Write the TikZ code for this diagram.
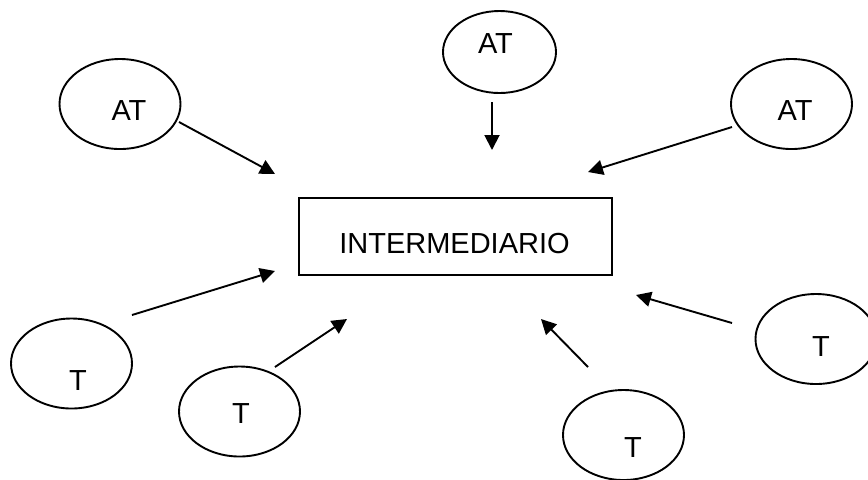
\documentclass[tikz,border=0pt]{standalone}
\usepackage{fontspec}
\setmainfont{Liberation Sans}
\usetikzlibrary{shapes.geometric,arrows.meta}
\begin{document}
\begin{tikzpicture}[x=0.5pt,y=-0.5pt,
  oval/.style={draw,ellipse,line width=0.95pt,inner sep=0pt,minimum width=60.5pt,minimum height=45pt},
  lbl/.style={inner sep=0pt,font=\fontsize{14.5pt}{17pt}\selectfont},
  conn/.style={line width=0.95pt,-{Triangle[length=7.5pt,width=7.5pt]}}]
\useasboundingbox (0,0) rectangle (868,479);
% box
\node[draw,line width=0.95pt,minimum width=156.5pt,minimum height=38.5pt,inner sep=0pt] (box) at (455.5,236.5) {};
\node[lbl] (boxt) at (454.5,244) {INTERMEDIARIO};
% ellipses
\node[oval] (at1) at (120,104) {};
\node[oval,minimum width=56.5pt,minimum height=41pt] (at2) at (499.5,52) {};
\node[oval] (at3) at (791.5,104) {};
\node[oval] (t1) at (71.5,363.5) {};
\node[oval] (t2) at (239.5,411.5) {};
\node[oval] (t3) at (623.5,435) {};
\node[oval] (t4) at (816,339) {};
% labels
\node[lbl] (at1t) at (129,111) {AT};
\node[lbl] (at2t) at (495.5,44) {AT};
\node[lbl] (at3t) at (795,111) {AT};
\node[lbl] (t1t) at (78,380.5) {T};
\node[lbl] (t2t) at (241,413.5) {T};
\node[lbl] (t3t) at (633,447.5) {T};
\node[lbl] (t4t) at (821,346.5) {T};
% connector ends
\coordinate (s1) at (179,122); \coordinate (e1) at (275,174);
\coordinate (s2) at (492,102); \coordinate (e2) at (492,150);
\coordinate (s3) at (732,127); \coordinate (e3) at (588,172);
\coordinate (s4) at (132,315); \coordinate (e4) at (275,271);
\coordinate (s5) at (275,367); \coordinate (e5) at (347,319);
\coordinate (s6) at (588,367); \coordinate (e6) at (541,319);
\coordinate (s7) at (732,323); \coordinate (e7) at (636,295);
\draw[conn] (s1) -- (e1);
\draw[conn] (s2) -- (e2);
\draw[conn] (s3) -- (e3);
\draw[conn] (s4) -- (e4);
\draw[conn] (s5) -- (e5);
\draw[conn] (s6) -- (e6);
\draw[conn] (s7) -- (e7);
\end{tikzpicture}
\end{document}
